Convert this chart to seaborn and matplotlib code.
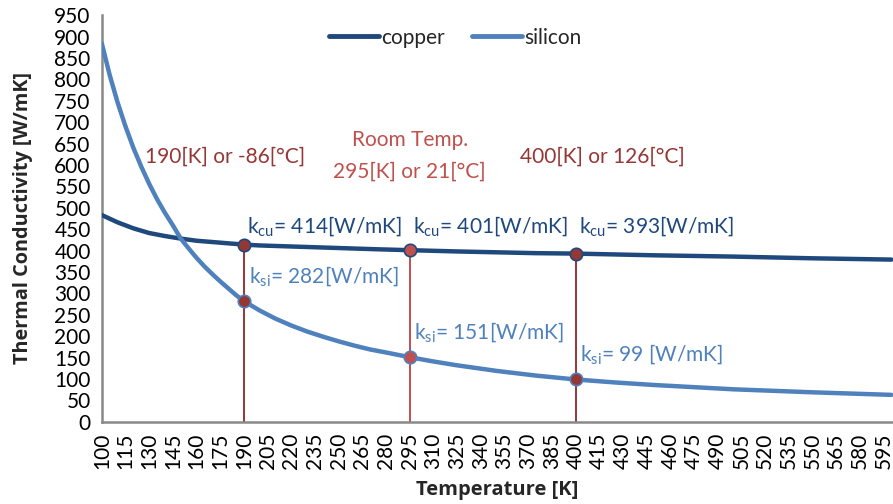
import matplotlib
matplotlib.use("Agg")
import matplotlib.pyplot as plt
import seaborn as sns
import pandas as pd
from matplotlib.ticker import FixedLocator, MultipleLocator

# Thermal conductivity of copper and silicon vs temperature [K]
cu_temp = [100, 110, 120, 130, 140, 150, 160, 170, 180, 190, 200, 225, 250, 275,
           295, 325, 350, 375, 400, 450, 500, 550, 600]
cu_k = [483, 466, 452, 441, 434, 428, 423, 420, 417, 414, 412, 409, 406, 403,
        401, 398, 396, 394, 393, 389, 386, 382, 379]

si_temp = [100, 105, 110, 115, 120, 125, 130, 135, 140, 145, 150, 155, 160, 165,
           170, 175, 180, 185, 190, 200, 210, 220, 230, 240, 250, 260, 270, 280,
           295, 310, 325, 350, 375, 400, 425, 450, 475, 500, 550, 600]
si_k = [884, 810, 746, 690, 640, 596, 556, 520, 488, 459, 428, 405, 383, 363,
        345, 328, 312, 296, 282, 260, 241, 225, 211, 199, 188, 178, 169, 162,
        151, 141, 132, 119, 108, 99, 92, 86, 81, 76, 69, 63]

# highlighted temperatures and their values
mark_temp = [190, 295, 400]
mark_cu = [414, 401, 393]
mark_si = [282, 151, 99]
mark_colors = ["#953735", "#C0504D", "#953735"]
si_label_text = ["282[W/mK]", "151[W/mK]", "99 [W/mK]"]
cu_label_text = ["414[W/mK]", "401[W/mK]", "393[W/mK]"]

x_ticks = list(range(100, 600, 15))
y_ticks = list(range(0, 951, 50))

CU_COLOR = "#1F497D"
SI_COLOR = "#4F81BD"
AXIS_GRAY = "#898989"
FS = 15

sns.set_style("white")
plt.rcParams["font.family"] = ["Lato", "DejaVu Sans"]
plt.rcParams["mathtext.fontset"] = "custom"
plt.rcParams["mathtext.rm"] = "Lato"

fig = plt.figure(figsize=(8.93, 5.04), dpi=100)
ax = fig.add_axes([0.114, 0.163, 0.886, 0.807])

cu_df = pd.DataFrame({"Temperature": cu_temp, "k": cu_k, "material": "copper"})
si_df = pd.DataFrame({"Temperature": si_temp, "k": si_k, "material": "silicon"})
df = pd.concat([cu_df, si_df], ignore_index=True)

sns.lineplot(data=df, x="Temperature", y="k", hue="material",
             palette={"copper": CU_COLOR, "silicon": SI_COLOR},
             linewidth=3.2, ax=ax, legend=False, zorder=3)

# vertical guides and markers at the highlighted temperatures
for t, kc, ks, c in zip(mark_temp, mark_cu, mark_si, mark_colors):
    ax.plot([t, t], [0, kc], color=c, linewidth=1.4, zorder=2)
    ax.scatter([t], [kc], s=80, color=c, edgecolor=CU_COLOR, linewidth=1.2, zorder=5)
    ax.scatter([t], [ks], s=80, color=c, edgecolor=SI_COLOR, linewidth=1.2, zorder=5)

for t, txt in zip(mark_temp, cu_label_text):
    ax.text(t + 2, 455, r"k$_{\mathregular{cu}}$= " + txt, color=CU_COLOR,
            fontsize=FS, va="center", ha="left", zorder=6)
for t, ks, txt in zip(mark_temp, mark_si, si_label_text):
    ax.text(t + 3, ks + 57, r"k$_{\mathregular{si}}$= " + txt, color=SI_COLOR,
            fontsize=FS, va="center", ha="left", zorder=6)

ax.text(127.5, 619, "190[K] or -86[°C]", color="#953735", fontsize=FS,
        va="center", ha="left")
ax.text(295, 658, "Room Temp.", color="#C0504D", fontsize=FS, va="center", ha="center")
ax.text(295, 584, "295[K] or 21[°C]", color="#C0504D", fontsize=FS, va="center", ha="center")
ax.text(364.5, 619, "400[K] or 126[°C]", color="#953735", fontsize=FS,
        va="center", ha="left")

# legend
handles = [plt.Line2D([], [], color=CU_COLOR, linewidth=3.5, solid_capstyle="round"),
           plt.Line2D([], [], color=SI_COLOR, linewidth=3.5, solid_capstyle="round")]
ax.legend(handles, ["copper", "silicon"], loc="upper center", bbox_to_anchor=(0.447, 1.015),
          ncol=2, frameon=False, fontsize=FS, handlelength=2.4, handletextpad=0.1,
          columnspacing=1.3)

ax.set_xlim(100, 601)
ax.set_ylim(0, 950)
ax.xaxis.set_major_locator(FixedLocator(x_ticks))
ax.xaxis.set_minor_locator(MultipleLocator(5))
ax.yaxis.set_major_locator(FixedLocator(y_ticks))
ax.yaxis.set_minor_locator(MultipleLocator(25))
ax.set_xticklabels([str(v) for v in x_ticks], rotation=90)

for side in ["top", "right"]:
    ax.spines[side].set_visible(False)
for side in ["left", "bottom"]:
    ax.spines[side].set_color(AXIS_GRAY)
    ax.spines[side].set_linewidth(1.8)

ax.tick_params(axis="both", which="major", direction="inout", length=14, width=1.5,
               color=AXIS_GRAY, labelsize=FS, labelcolor="black", pad=1)
ax.tick_params(axis="both", which="minor", direction="in", length=5, width=1.2,
               color=AXIS_GRAY)
ax.tick_params(axis="y", which="major", pad=1)

ax.set_xlabel("Temperature [K]", fontsize=14.5, fontweight="bold", family="Open Sans")
ax.set_ylabel("Thermal Conductivity [W/mK]", fontsize=14.3, fontweight="bold",
              family="Open Sans")
ax.xaxis.set_label_coords(0.5, -0.142)
ax.yaxis.set_label_coords(-0.087, 0.5)

fig.savefig("out.png", dpi=100)
